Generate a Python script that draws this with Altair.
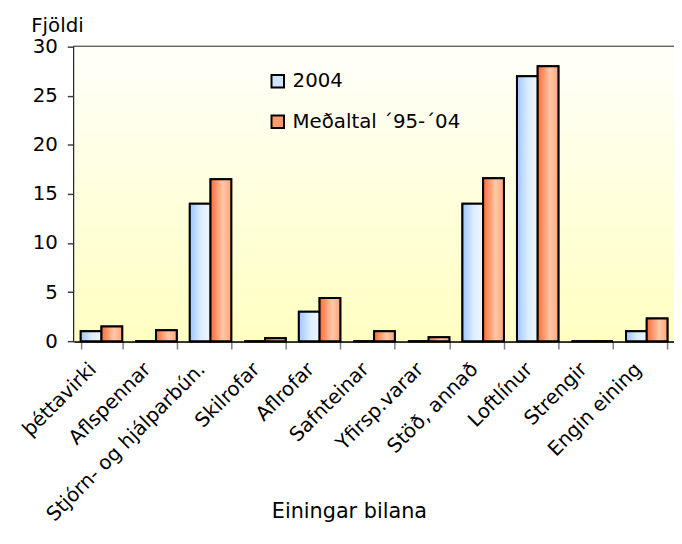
import altair as alt
import pandas as pd

categories = ["þéttavirki", "Aflspennar", "Stjórn- og hjálparbún.", "Skilrofar",
              "Aflrofar", "Safnteinar", "Yfirsp.varar", "Stöð, annað",
              "Loftlínur", "Strengir", "Engin eining"]
series = ["2004", "Meðaltal ´95-´04"]
values_2004 = [1, 0, 14, 0, 3, 0, 0, 14, 27, 0, 1]
values_avg = [1.5, 1.1, 16.5, 0.3, 4.4, 1.0, 0.4, 16.6, 28, 0, 2.3]
y_ticks = [0, 5, 10, 15, 20, 25, 30]

rows = []
for c, a, b in zip(categories, values_2004, values_avg):
    rows.append({"cat": c, "series": series[0], "value": a})
    rows.append({"cat": c, "series": series[1], "value": b})
df = pd.DataFrame(rows)

FONT = "DejaVu Sans"
W, H = 607, 298

x_enc = alt.X("cat:N", sort=categories,
              scale=alt.Scale(paddingInner=0.24, paddingOuter=0.12),
              axis=alt.Axis(title="Einingar bilana", labelAngle=-45, labelAlign="right",
                            labelBaseline="middle", labelPadding=17, labelOffset=-9,
                            labelOverlap=False, labelLimit=0,
                            labelFontSize=20, labelFont=FONT, labelColor="black",
                            tickBand="extent", tickSize=8, tickColor="#808080", tickWidth=1.5,
                            domainColor="black", domainWidth=2,
                            titleFontSize=21, titleFont=FONT, titleFontWeight="normal",
                            titleColor="black", titleX=278, titleY=178,
                            titleBaseline="alphabetic"))
xo_enc = alt.XOffset("series:N", sort=series, scale=alt.Scale(paddingInner=0, paddingOuter=0))
y_enc = alt.Y("value:Q", scale=alt.Scale(domain=[0, 30], nice=False),
              axis=alt.Axis(values=y_ticks, title="Fjöldi", titleAngle=0, titleAlign="left",
                            titleBaseline="alphabetic", titleX=-44, titleY=-15,
                            titleFontSize=20, titleFont=FONT, titleFontWeight="normal",
                            titleColor="black",
                            labelFontSize=20, labelFont=FONT, labelColor="black", labelPadding=10,
                            tickSize=7, tickColor="#404040", tickWidth=1.5,
                            domainColor="black", domainWidth=2,
                            grid=True, gridColor="#A0A0A0", gridWidth=1))

bg = alt.Chart(pd.DataFrame({"lo": [y_ticks[0]], "hi": [y_ticks[-1]]})).mark_rect(
    fill=alt.Gradient(gradient="linear", x1=0, x2=0, y1=0, y2=1,
                      stops=[alt.GradientStop(offset=0, color="#FFFFFA"),
                             alt.GradientStop(offset=1, color="#FFFFC2")])
).encode(x=alt.value(0), x2=alt.value("width"), y=alt.Y("hi:Q"), y2="lo:Q")

legend_layer = alt.Chart(df).mark_bar(stroke="black", strokeWidth=2).encode(
    x=x_enc, xOffset=xo_enc, y=y_enc,
    fill=alt.Fill("series:N", sort=series,
                  scale=alt.Scale(domain=series, range=["#CFE4FF", "#FF9A70"]),
                  legend=alt.Legend(title=None, orient="none", legendX=196, legendY=25,
                                    symbolType="square", symbolSize=160,
                                    symbolStrokeColor="black", symbolStrokeWidth=2,
                                    labelFontSize=20, labelFont=FONT, labelColor="black",
                                    labelLimit=0, labelOffset=5, rowPadding=19))
)

blue_grad = alt.Gradient(gradient="linear", x1=0, x2=1, y1=0, y2=0,
                         stops=[alt.GradientStop(offset=0, color="#9CC6FF"),
                                alt.GradientStop(offset=0.55, color="#DDEEFF"),
                                alt.GradientStop(offset=1, color="#EEF6FF")])
orange_grad = alt.Gradient(gradient="linear", x1=0, x2=1, y1=0, y2=0,
                           stops=[alt.GradientStop(offset=0, color="#FF6A38"),
                                  alt.GradientStop(offset=0.6, color="#FFC8A6"),
                                  alt.GradientStop(offset=1, color="#FFA47C")])

bars_2004 = alt.Chart(df).transform_filter(alt.datum.series == series[0]).mark_bar(
    fill=blue_grad, stroke="black", strokeWidth=2).encode(x=x_enc, xOffset=xo_enc, y=y_enc)
bars_avg = alt.Chart(df).transform_filter(alt.datum.series == series[1]).mark_bar(
    fill=orange_grad, stroke="black", strokeWidth=2).encode(x=x_enc, xOffset=xo_enc, y=y_enc)

chart = alt.layer(bg, legend_layer, bars_2004, bars_avg).properties(
    width=W, height=H,
    autosize=alt.AutoSizeParams(type="none"),
    padding={"left": 67, "top": 36, "right": 0, "bottom": 192},
    background="white"
).configure_view(stroke="black", strokeWidth=2)

chart.save("out.html", embed_options={"renderer": "svg", "actions": False})
